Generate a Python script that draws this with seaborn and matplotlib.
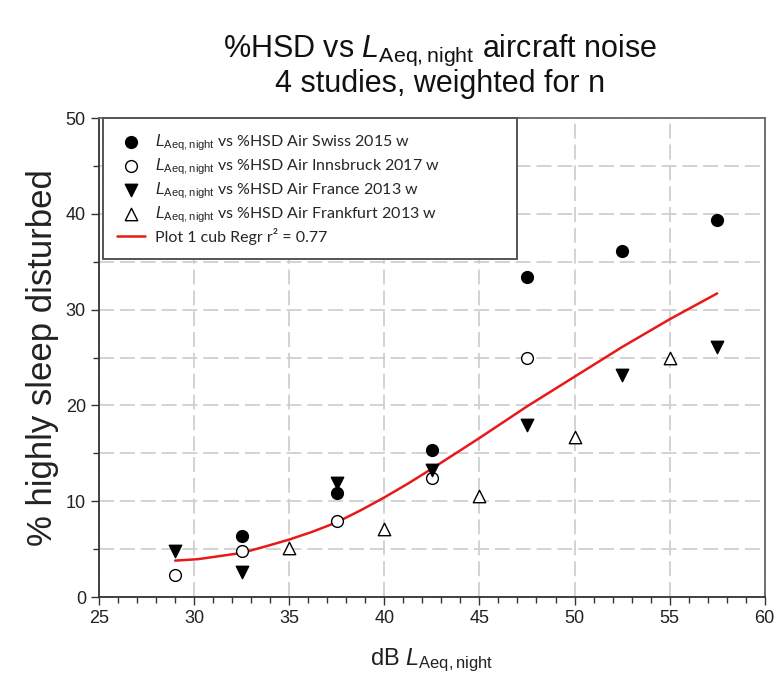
import matplotlib
matplotlib.use("Agg")
import matplotlib.pyplot as plt
from matplotlib.ticker import MultipleLocator
import pandas as pd
import seaborn as sns

swiss_x = [32.5, 37.5, 42.5, 47.5, 52.5, 57.5]
swiss_y = [6.4, 10.9, 15.3, 33.4, 36.1, 39.4]

innsbruck_x = [29, 32.5, 37.5, 42.5, 47.5]
innsbruck_y = [2.3, 4.8, 7.9, 12.4, 25.0]

france_x = [29, 32.5, 37.5, 42.5, 47.5, 52.5, 57.5]
france_y = [4.8, 2.6, 11.9, 13.3, 18.0, 23.2, 26.1]

frankfurt_x = [35, 40, 45, 50, 55]
frankfurt_y = [5.1, 7.1, 10.5, 16.7, 25.0]

fit_x = [29, 30.2, 32.5, 33.7, 35, 36.2, 37.5, 38.8, 40, 41.25, 42.5, 45, 47.5, 50, 52.5, 55, 57.5]
fit_y = [3.8, 3.95, 4.6, 5.25, 6.0, 6.8, 7.8, 9.1, 10.4, 11.85, 13.4, 16.6, 19.9, 23.0, 26.1, 29.0, 31.7]

sub = r"$L_{\mathrm{Aeq,night}}$"
labels = [
    f"{sub} vs %HSD Air Swiss 2015 w",
    f"{sub} vs %HSD Air Innsbruck 2017 w",
    f"{sub} vs %HSD Air France 2013 w",
    f"{sub} vs %HSD Air Frankfurt 2013 w",
]

sns.set_style("white")
plt.rcParams["font.family"] = ["Liberation Sans", "DejaVu Sans"]
plt.rcParams["mathtext.fontset"] = "custom"
plt.rcParams["mathtext.rm"] = "Liberation Sans"
plt.rcParams["mathtext.it"] = "Liberation Sans:italic"

fig = plt.figure(figsize=(7.74, 6.87), dpi=100)
ax = fig.add_axes([0.128, 0.131, 0.860, 0.697])

series = [
    (swiss_x, swiss_y, "o", "black", 72, labels[0]),
    (innsbruck_x, innsbruck_y, "o", "white", 72, labels[1]),
    (france_x, france_y, "v", "black", 80, labels[2]),
    (frankfurt_x, frankfurt_y, "^", "white", 80, labels[3]),
]
for xs, ys, mk, fc, size, lab in series:
    df = pd.DataFrame({"x": xs, "y": ys})
    sns.scatterplot(data=df, x="x", y="y", marker=mk, color=fc, edgecolor="black",
                    linewidth=1.0, s=size, ax=ax, label=lab, zorder=4)

fit = pd.DataFrame({"x": fit_x, "y": fit_y})
sns.lineplot(data=fit, x="x", y="y", color="#e8191b", linewidth=1.8, ax=ax,
             label="Plot 1 cub Regr r² = 0.77", zorder=3)

ax.set_xlim(25, 60)
ax.set_ylim(0, 50)
ax.xaxis.set_major_locator(MultipleLocator(5))
ax.xaxis.set_minor_locator(MultipleLocator(1))
ax.yaxis.set_major_locator(MultipleLocator(10))
ax.yaxis.set_minor_locator(MultipleLocator(5))
ax.tick_params(axis="both", which="major", direction="out", length=6, width=1,
               labelsize=13, colors="#333333", labelcolor="#222222")
ax.tick_params(axis="both", which="minor", direction="out", length=4, width=1, colors="#333333")
ax.tick_params(left=True, bottom=True, which="both")

dash = (0, (9, 3.5))
ax.grid(True, which="major", axis="x", color="#cccccc", linestyle=dash, linewidth=1.2)
ax.grid(True, which="both", axis="y", color="#cccccc", linestyle=dash, linewidth=1.2)
ax.set_axisbelow(True)

for side in ["left", "bottom"]:
    ax.spines[side].set_color("#333333")
    ax.spines[side].set_linewidth(1.3)
for side in ["top", "right"]:
    ax.spines[side].set_color("#666666")
    ax.spines[side].set_linewidth(1.3)

ax.set_xlabel(r"dB $L_{\mathrm{Aeq,night}}$", fontsize=17, labelpad=14, color="#222222")
ax.set_ylabel("% highly sleep disturbed", fontsize=25, labelpad=5, color="#222222")

leg = ax.legend(loc="upper left", bbox_to_anchor=(0.006, 1.0, 0.622, 0.0), mode="expand",
                borderaxespad=0.0, frameon=True, fancybox=False, framealpha=1,
                edgecolor="#555555", borderpad=0.9, labelspacing=0.2, handlelength=1.75,
                handletextpad=0.6, prop={"family": ["Lato", "DejaVu Sans"], "size": 11.5})
leg.get_frame().set_linewidth(1.4)

fig.text(0.568, 0.926, "%HSD vs $L_{\\mathrm{Aeq,night}}$ aircraft noise", ha="center",
         va="center", fontsize=22, color="#111111")
fig.text(0.568, 0.878, "4 studies, weighted for n", ha="center", va="center",
         fontsize=22, color="#111111")

fig.savefig("out.png", dpi=100)
